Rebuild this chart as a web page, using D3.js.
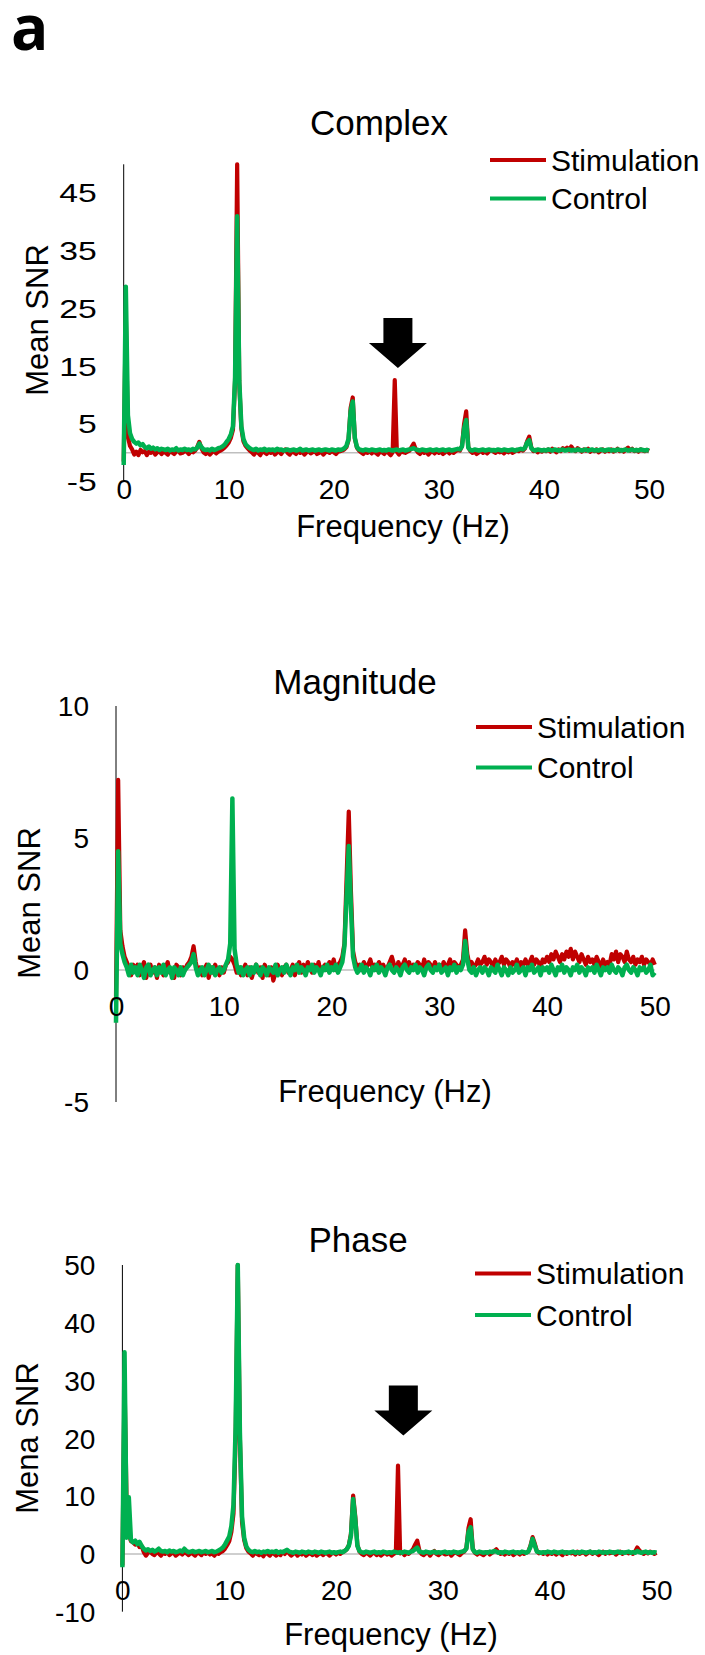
<!DOCTYPE html>
<html>
<head>
<meta charset="utf-8">
<script src="https://cdn.jsdelivr.net/npm/d3@7"></script>
<style>
  body { margin: 0; background: #fff; }
  text { font-family: "Liberation Sans", Arial, sans-serif; fill: #000; }
</style>
</head>
<body>
<script>
// frequency grid, 0.2 Hz bins from 0 to 50 Hz
const freqs = d3.range(251).map(i => +(i * 0.2).toFixed(1))

// Complex
const complexStim = [
  -1.5, 24.0, 2.8, 1.2, 0.6, -0.3, 0.2, -0.4, 0.5, 0.1,
  0.3, -0.4, 0.2, 0.0, 0.4, -0.3, 0.1, 0.3, -0.2, 0.2,
  0.0, -0.3, 0.3, 0.1, -0.2, 0.2, 0.4, -0.1, 0.0, 0.3,
  0.2, -0.2, 0.3, 0.1, 0.4, 1.0, 1.9, 0.8, 0.1, -0.2,
  0.2, -0.3, 0.1, 0.3, -0.1, 0.2, 0.4, 0.6, 0.9, 1.3,
  1.8, 2.6, 4.0, 12.5, 50.0, 12.0, 4.2, 2.0, 1.2, 0.8,
  0.4, 0.1, -0.3, 0.2, 0.0, -0.4, 0.3, 0.1, -0.2, 0.2,
  0.0, 0.3, -0.3, 0.1, 0.2, -0.2, 0.4, 0.6, 0.0, -0.3,
  0.2, 0.1, -0.2, 0.3, 0.0, 0.2, -0.3, 0.1, 0.3, -0.1,
  0.1, 0.3, -0.2, 0.0, 0.2, -0.3, 0.1, 0.2, 0.0, 0.3,
  0.1, -0.2, 0.2, 0.3, 0.4, 0.6, 1.0, 2.2, 7.8, 9.6,
  2.5, 0.9, 0.4, 0.1, -0.2, 0.2, 0.0, 0.3, -0.1, 0.2,
  0.0, -0.3, 0.2, 0.1, -0.2, 0.3, 0.0, -0.4, 0.1, 12.6,
  0.2, -0.3, 0.3, 0.1, 0.0, 0.2, 0.4, 1.0, 1.6, 0.6,
  0.1, -0.2, 0.3, 0.0, 0.2, -0.3, 0.1, 0.2, -0.1, 0.3,
  0.0, 0.2, -0.2, 0.1, 0.3, -0.1, 0.2, 0.0, 0.3, 0.5,
  0.4, 1.2, 5.0, 7.2, 1.0, 0.3, 0.0, 0.2, -0.2, 0.1,
  0.3, 0.0, 0.2, -0.1, 0.3, 0.5, 0.2, 0.0, 0.4, 0.1,
  0.2, -0.1, 0.3, 0.1, 0.4, 0.0, 0.2, 0.5, 0.3, 0.6,
  0.4, 0.8, 2.0, 2.8, 0.9, 0.3, 0.5, 0.1, 0.4, 0.2,
  0.5, 0.3, 0.6, 0.2, 0.7, 0.4, 0.1, 0.6, 0.3, 0.8,
  0.5, 0.9, 0.4, 1.1, 0.6, 0.3, 0.8, 0.5, 0.2, 0.6,
  0.4, 0.7, 0.2, 0.5, 0.3, 0.6, 0.1, 0.4, 0.6, 0.2,
  0.5, 0.3, 0.6, 0.2, 0.4, 0.7, 0.3, 0.5, 0.2, 0.6,
  0.9, 0.4, 0.7, 0.3, 0.5, 0.2, 0.6, 0.4, 0.3, 0.5,
  0.3
]
const complexCtrl = [
  -2.1, 28.8, 6.5, 3.4, 2.4, 1.9, 1.6, 1.8, 1.3, 1.5,
  1.0, 0.8, 1.1, 0.7, 0.9, 0.6, 0.8, 0.5, 0.7, 0.6,
  0.5, 0.7, 0.4, 0.6, 0.5, 0.8, 0.4, 0.6, 0.5, 0.7,
  0.5, 0.6, 0.4, 0.7, 0.6, 0.9, 1.6, 1.0, 0.6, 0.5,
  0.6, 0.4, 0.7, 0.5, 0.6, 0.8, 0.9, 1.1, 1.4, 1.9,
  2.4, 3.2, 4.6, 13.0, 41.0, 12.5, 4.6, 2.4, 1.5, 1.1,
  0.8, 0.6, 0.5, 0.7, 0.4, 0.6, 0.5, 0.7, 0.4, 0.6,
  0.5, 0.6, 0.4, 0.7, 0.5, 0.6, 0.4, 0.5, 0.6, 0.4,
  0.5, 0.6, 0.4, 0.5, 0.7, 0.4, 0.5, 0.6, 0.4, 0.5,
  0.6, 0.4, 0.5, 0.6, 0.4, 0.5, 0.6, 0.5, 0.4, 0.6,
  0.5, 0.4, 0.6, 0.5, 0.6, 0.8, 1.2, 2.4, 7.2, 8.9,
  2.6, 1.0, 0.6, 0.5, 0.4, 0.6, 0.5, 0.4, 0.6, 0.5,
  0.4, 0.5, 0.6, 0.4, 0.5, 0.4, 0.6, 0.5, 0.4, 0.5,
  0.6, 0.4, 0.5, 0.6, 0.4, 0.5, 0.6, 0.7, 0.8, 0.6,
  0.5, 0.4, 0.6, 0.5, 0.4, 0.5, 0.6, 0.4, 0.5, 0.6,
  0.4, 0.5, 0.6, 0.4, 0.5, 0.6, 0.4, 0.5, 0.6, 0.7,
  0.6, 1.1, 4.2, 5.7, 0.9, 0.5, 0.4, 0.6, 0.5, 0.4,
  0.5, 0.6, 0.4, 0.5, 0.6, 0.4, 0.5, 0.4, 0.6, 0.5,
  0.4, 0.6, 0.5, 0.4, 0.5, 0.6, 0.4, 0.5, 0.6, 0.7,
  0.6, 0.9, 1.8, 2.2, 0.8, 0.5, 0.4, 0.6, 0.5, 0.4,
  0.5, 0.4, 0.6, 0.5, 0.4, 0.6, 0.5, 0.4, 0.5, 0.6,
  0.4, 0.5, 0.6, 0.4, 0.5, 0.4, 0.6, 0.5, 0.4, 0.5,
  0.6, 0.4, 0.5, 0.6, 0.4, 0.5, 0.4, 0.6, 0.5, 0.4,
  0.5, 0.6, 0.4, 0.5, 0.4, 0.6, 0.5, 0.4, 0.5, 0.6,
  0.4, 0.5, 0.6, 0.4, 0.5, 0.4, 0.6, 0.5, 0.4, 0.5,
  0.4
]

// Magnitude
const magnitudeStim = [
  -1.0, 7.2, 1.5, 0.9, 0.5, 0.3, 0.1, -0.2, 0.2, 0.0,
  0.2, -0.2, 0.1, 0.3, -0.3, 0.0, 0.2, -0.1, 0.1, -0.3,
  0.2, 0.0, -0.2, 0.1, 0.3, -0.1, 0.0, -0.3, 0.2, 0.1,
  -0.2, 0.1, 0.0, 0.2, 0.3, 0.5, 0.9, 0.3, -0.1, 0.1,
  -0.2, 0.0, 0.2, -0.3, 0.1, -0.1, 0.2, 0.0, -0.2, 0.1,
  -0.1, 0.2, 0.3, 0.5, 0.4, 0.2, -0.1, 0.1, -0.2, 0.0,
  0.2, -0.2, 0.1, -0.3, 0.0, 0.2, -0.1, 0.1, -0.3, 0.2,
  0.0, -0.2, 0.1, -0.4, -0.1, 0.2, 0.0, -0.2, 0.1, 0.2,
  -0.1, 0.0, 0.2, -0.2, 0.1, 0.3, -0.1, 0.2, 0.0, 0.3,
  0.1, -0.1, 0.2, 0.0, 0.3, -0.1, 0.1, 0.2, 0.0, 0.3,
  0.1, 0.4, 0.0, 0.2, 0.3, 0.5, 1.0, 3.5, 6.0, 3.0,
  0.7, 0.3, 0.1, 0.2, 0.0, 0.3, 0.1, 0.2, 0.4, 0.1,
  0.2, 0.0, 0.3, 0.1, 0.2, 0.0, 0.1, 0.3, 0.5, 0.2,
  0.0, 0.3, 0.1, 0.2, 0.4, 0.1, 0.3, 0.0, 0.2, 0.1,
  0.3, 0.2, 0.0, 0.4, 0.1, 0.3, 0.2, 0.0, 0.3, 0.1,
  0.2, 0.0, 0.3, 0.1, 0.2, 0.4, 0.1, 0.3, 0.2, 0.1,
  0.2, 0.4, 1.5, 0.6, 0.2, 0.3, 0.1, 0.2, 0.4, 0.2,
  0.3, 0.5, 0.2, 0.4, 0.3, 0.1, 0.4, 0.2, 0.3, 0.5,
  0.2, 0.4, 0.3, 0.1, 0.3, 0.2, 0.4, 0.1, 0.3, 0.2,
  0.4, 0.2, 0.3, 0.5, 0.2, 0.4, 0.3, 0.1, 0.4, 0.3,
  0.5, 0.3, 0.6, 0.4, 0.7, 0.5, 0.3, 0.6, 0.4, 0.7,
  0.5, 0.8, 0.4, 0.7, 0.5, 0.3, 0.6, 0.4, 0.2, 0.5,
  0.3, 0.4, 0.2, 0.5, 0.3, 0.1, 0.4, 0.2, 0.3, 0.2,
  0.6, 0.4, 0.7, 0.3, 0.6, 0.5, 0.3, 0.7, 0.4, 0.3,
  0.5, 0.2, 0.4, 0.3, 0.5, 0.2, 0.4, 0.3, 0.2, 0.4,
  0.2
]
const magnitudeCtrl = [
  -2.0, 4.5, 1.0, 0.6, 0.3, 0.1, -0.2, 0.2, -0.1, 0.1,
  -0.2, 0.2, 0.0, -0.3, 0.1, 0.2, -0.2, 0.0, 0.1, -0.2,
  0.1, -0.1, 0.2, -0.2, 0.0, 0.1, -0.3, 0.1, 0.0, -0.2,
  0.1, -0.2, 0.0, 0.1, 0.2, 0.3, 0.6, 0.1, -0.2, 0.0,
  0.1, -0.2, 0.0, 0.2, -0.1, 0.1, -0.2, 0.0, 0.1, -0.1,
  0.0, 0.2, 0.4, 1.0, 6.5, 0.8, 0.2, -0.1, 0.1, -0.2,
  0.0, 0.1, -0.2, 0.1, -0.1, 0.2, 0.0, -0.2, 0.1, 0.0,
  -0.2, 0.1, 0.0, -0.1, 0.2, -0.2, 0.0, 0.1, -0.1, 0.2,
  0.0, -0.2, 0.1, 0.0, 0.2, -0.1, 0.1, 0.0, -0.2, 0.1,
  0.0, 0.2, -0.1, 0.1, 0.0, -0.2, 0.1, 0.0, 0.2, -0.1,
  0.1, 0.0, 0.2, -0.1, 0.1, 0.3, 0.9, 2.8, 4.7, 2.4,
  0.5, 0.1, -0.1, 0.0, 0.2, -0.1, 0.1, 0.0, -0.2, 0.1,
  0.0, 0.2, -0.1, 0.1, 0.0, -0.2, 0.1, 0.2, 0.0, -0.1,
  0.1, 0.0, -0.2, 0.1, 0.2, 0.0, -0.1, 0.1, 0.0, 0.2,
  -0.1, 0.1, 0.0, -0.2, 0.1, 0.2, 0.0, -0.1, 0.1, 0.0,
  0.2, -0.1, 0.0, 0.1, -0.2, 0.1, 0.0, 0.2, -0.1, 0.1,
  0.0, 0.2, 1.1, 0.4, 0.0, -0.1, 0.1, -0.2, 0.0, 0.1,
  -0.1, 0.1, 0.0, -0.2, 0.1, 0.0, -0.1, 0.2, 0.0, -0.2,
  0.1, 0.0, -0.2, 0.1, -0.1, 0.0, 0.2, -0.1, 0.0, 0.1,
  -0.2, 0.1, 0.0, 0.2, -0.1, 0.0, 0.1, -0.2, 0.1, 0.0,
  0.1, -0.1, 0.2, 0.0, -0.2, 0.1, 0.0, 0.2, -0.1, 0.1,
  0.0, -0.2, 0.1, 0.0, 0.2, -0.1, 0.1, 0.0, -0.2, 0.1,
  0.0, 0.1, -0.1, 0.2, 0.0, -0.2, 0.1, 0.0, 0.1, -0.1,
  0.2, 0.0, -0.1, 0.1, 0.0, -0.2, 0.1, 0.2, 0.0, -0.1,
  0.1, 0.0, -0.2, 0.1, 0.0, 0.1, -0.1, 0.0, 0.2, -0.2,
  -0.1
]

// Phase
const phaseStim = [
  -2.0, 30.0, 8.0, 3.5, 2.2, 2.0, 1.6, 1.9, 1.2, 1.4,
  0.3, -0.3, 0.2, 0.4, 0.0, -0.2, 0.3, 0.1, -0.3, 0.2,
  0.0, 0.3, -0.2, 0.1, 0.2, -0.3, 0.0, 0.2, -0.1, 0.3,
  0.1, -0.2, 0.2, 0.0, -0.3, 0.2, 0.1, -0.2, 0.3, 0.0,
  0.2, -0.1, 0.1, -0.3, 0.2, 0.0, 0.3, 0.5, 0.9, 1.5,
  2.2, 3.8, 7.0, 20.0, 50.0, 20.0, 5.5, 2.4, 1.0, 0.4,
  0.1, -0.3, 0.2, 0.0, -0.2, 0.1, -0.4, 0.2, 0.0, -0.3,
  0.2, 0.0, -0.3, 0.1, -0.2, 0.3, 0.0, 0.6, 0.1, -0.3,
  0.0, 0.2, -0.3, 0.1, -0.1, 0.2, -0.3, 0.0, 0.1, -0.2,
  0.2, -0.3, 0.0, 0.1, -0.2, 0.2, 0.0, -0.3, 0.1, 0.2,
  -0.1, 0.2, 0.0, 0.3, 0.5, 0.8, 1.5, 3.5, 10.1, 6.5,
  1.5, 0.4, 0.0, -0.2, 0.2, 0.0, -0.3, 0.1, 0.2, -0.2,
  0.1, -0.3, 0.0, 0.2, -0.1, 0.1, -0.3, 0.0, 0.2, 15.3,
  0.1, 0.3, -0.2, 0.2, 0.0, 0.4, 0.8, 1.6, 2.3, 0.6,
  0.0, -0.2, 0.1, 0.3, -0.3, 0.2, 0.5, 0.0, -0.2, 0.1,
  0.2, -0.1, 0.0, 0.2, -0.3, 0.1, 0.3, 0.0, -0.2, 0.2,
  0.4, 1.0, 4.5, 6.0, 0.9, 0.2, -0.1, 0.2, 0.0, -0.2,
  0.1, 0.3, -0.1, 0.2, 0.5, 0.8, 0.3, 0.0, 0.2, -0.1,
  0.2, 0.0, 0.3, -0.2, 0.1, 0.2, -0.1, 0.3, 0.0, 0.2,
  0.4, 1.4, 2.9, 1.8, 0.5, 0.1, 0.2, 0.0, 0.3, -0.1,
  0.2, 0.0, 0.3, -0.1, 0.2, 0.1, -0.2, 0.3, 0.0, 0.2,
  0.1, 0.3, -0.1, 0.4, 0.0, 0.2, 0.3, -0.1, 0.2, 0.4,
  0.0, 0.3, 0.1, -0.2, 0.2, 0.4, 0.0, 0.3, 0.1, 0.2,
  0.3, -0.1, 0.2, 0.4, 0.0, 0.2, 0.3, 0.1, 0.2, 0.0,
  0.4, 1.1, 0.6, 0.2, 0.0, 0.3, 0.1, 0.4, 0.2, 0.0,
  0.2
]
const phaseCtrl = [
  -2.3, 34.9, 2.8, 9.8, 2.4, 2.0, 2.3, 1.7, 2.1, 1.4,
  0.9, 0.6, 0.8, 0.5, 0.7, 0.4, 0.6, 0.9, 0.5, 0.4,
  0.5, 0.3, 0.6, 0.4, 0.5, 0.3, 0.4, 0.6, 0.4, 0.9,
  0.5, 0.3, 0.4, 0.5, 0.3, 0.4, 0.5, 0.3, 0.4, 0.5,
  0.3, 0.4, 0.5, 0.3, 0.4, 0.6, 0.8, 1.1, 1.6, 2.3,
  3.0, 4.8, 8.5, 22.0, 50.0, 21.0, 6.5, 2.8, 1.3, 0.7,
  0.4, 0.3, 0.5, 0.3, 0.4, 0.2, 0.4, 0.3, 0.5, 0.3,
  0.4, 0.3, 0.5, 0.2, 0.4, 0.3, 0.5, 0.7, 0.4, 0.3,
  0.2, 0.4, 0.3, 0.2, 0.4, 0.3, 0.2, 0.4, 0.3, 0.2,
  0.4, 0.3, 0.2, 0.4, 0.3, 0.2, 0.3, 0.4, 0.2, 0.3,
  0.2, 0.3, 0.4, 0.3, 0.5, 0.8, 1.4, 3.2, 9.5, 6.0,
  1.4, 0.5, 0.3, 0.2, 0.4, 0.3, 0.2, 0.3, 0.4, 0.2,
  0.3, 0.2, 0.4, 0.3, 0.2, 0.3, 0.2, 0.4, 0.3, 0.2,
  0.3, 0.2, 0.4, 0.3, 0.2, 0.4, 0.5, 0.8, 1.1, 0.4,
  0.3, 0.2, 0.4, 0.3, 0.2, 0.3, 0.4, 0.2, 0.3, 0.2,
  0.3, 0.4, 0.2, 0.3, 0.2, 0.4, 0.3, 0.2, 0.3, 0.4,
  0.5, 0.9, 3.8, 4.6, 0.8, 0.3, 0.2, 0.4, 0.3, 0.2,
  0.3, 0.2, 0.4, 0.3, 0.5, 0.4, 0.2, 0.3, 0.2, 0.4,
  0.3, 0.2, 0.3, 0.4, 0.2, 0.3, 0.2, 0.4, 0.3, 0.2,
  0.4, 1.2, 2.6, 1.5, 0.4, 0.3, 0.2, 0.3, 0.2, 0.4,
  0.3, 0.2, 0.4, 0.3, 0.2, 0.3, 0.4, 0.2, 0.3, 0.2,
  0.3, 0.4, 0.2, 0.3, 0.2, 0.4, 0.3, 0.2, 0.3, 0.4,
  0.2, 0.3, 0.2, 0.4, 0.3, 0.2, 0.3, 0.2, 0.4, 0.3,
  0.2, 0.3, 0.4, 0.2, 0.3, 0.2, 0.3, 0.4, 0.2, 0.3,
  0.2, 0.5, 0.3, 0.2, 0.3, 0.4, 0.2, 0.3, 0.2, 0.3,
  0.2
]

const xTicks = [0, 10, 20, 30, 40, 50]
const complexYTicks = [-5, 5, 15, 25, 35, 45]
const magnitudeYTicks = [-5, 0, 5, 10]
const phaseYTicks = [-10, 0, 10, 20, 30, 40, 50]
const seriesNames = ['Stimulation', 'Control']

// arrows marking the stimulation frequency: centre frequency and value at the tip
const complexArrow = { freq: 26.1, tip: 14.7 }
const phaseArrow = { freq: 26.3, tip: 20.5 }

const RED = '#c00000'
const GREEN = '#00b050'

const panels = [
  { title: 'Complex', ylabel: 'Mean SNR', stim: complexStim, ctrl: complexCtrl,
    yDomain: [-5, 50], yTicks: complexYTicks, xRange: [123.7, 649], yRange: [481.7, 164.3],
    titleX: 379, titleY: 135, legX: 490, legY: 160, legGap: 38.5,
    ylabX: 37, ylabY: 320, xlabX: 403, xlabY: 537, tickFont: 25, tickStretch: 1.35,
    arrow: complexArrow },
  { title: 'Magnitude', ylabel: 'Mean SNR', stim: magnitudeStim, ctrl: magnitudeCtrl,
    yDomain: [-5, 10], yTicks: magnitudeYTicks, xRange: [116, 654.8], yRange: [1102, 706],
    titleX: 355, titleY: 694, legX: 476, legY: 727, legGap: 40.5,
    ylabX: 29, ylabY: 903, xlabX: 385, xlabY: 1102, tickFont: 28, tickStretch: 1,
    arrow: null },
  { title: 'Phase', ylabel: 'Mena SNR', stim: phaseStim, ctrl: phaseCtrl,
    yDomain: [-10, 50], yTicks: phaseYTicks, xRange: [122.4, 656.5], yRange: [1611.7, 1265],
    titleX: 358, titleY: 1252, legX: 475, legY: 1273.5, legGap: 41.5,
    ylabX: 27, ylabY: 1438, xlabX: 391, xlabY: 1645, tickFont: 28, tickStretch: 1,
    arrow: phaseArrow }
]

const svg = d3.select('body').append('svg')
  .attr('width', 705)
  .attr('height', 1655)
  .attr('viewBox', '0 0 705 1655')

svg.append('text')
  .attr('x', 11)
  .attr('y', 50)
  .style('font-family', '"Open Sans", "Liberation Sans", sans-serif')
  .style('font-weight', 700)
  .style('font-size', '62px')
  .text('a')

panels.forEach(p => {
  const x = d3.scaleLinear().domain([0, 50]).range(p.xRange)
  const y = d3.scaleLinear().domain(p.yDomain).range(p.yRange)
  const g = svg.append('g')

  // zero line (horizontal axis)
  g.append('line')
    .attr('x1', x(0)).attr('x2', x(50))
    .attr('y1', y(0)).attr('y2', y(0))
    .attr('stroke', '#bfbfbf')
    .attr('stroke-width', 1.5)

  // vertical axis line
  g.append('line')
    .attr('x1', x(0)).attr('x2', x(0))
    .attr('y1', y(p.yDomain[1])).attr('y2', y(p.yDomain[0]))
    .attr('stroke', '#000')
    .attr('stroke-width', 1)

  const line = d3.line()
    .x((d, i) => x(freqs[i]))
    .y(d => y(d))

  g.append('path')
    .datum(p.stim)
    .attr('d', line)
    .attr('fill', 'none')
    .attr('stroke', RED)
    .attr('stroke-width', 4.2)
    .attr('stroke-linejoin', 'round')

  g.append('path')
    .datum(p.ctrl)
    .attr('d', line)
    .attr('fill', 'none')
    .attr('stroke', GREEN)
    .attr('stroke-width', 4.5)
    .attr('stroke-linejoin', 'round')

  // axes (plain hyphen for negatives, as in the source)
  const xAxis = g.append('g')
    .attr('transform', `translate(0, ${y(0)})`)
    .call(d3.axisBottom(x).tickValues(xTicks).tickSize(0).tickFormat(d => String(d)))
  xAxis.select('.domain').remove()
  xAxis.selectAll('text')
    .attr('y', 36)
    .attr('dy', '0.35em')
    .style('font-size', '28px')
    .style('font-family', '"Liberation Sans", Arial, sans-serif')
    .attr('fill', '#000')

  const yAxis = g.append('g')
    .attr('transform', `translate(${x(0)}, 0)`)
    .call(d3.axisLeft(y).tickValues(p.yTicks).tickSize(0).tickFormat(d => String(d)))
  yAxis.select('.domain').remove()
  yAxis.selectAll('text')
    .attr('x', -27 / p.tickStretch)
    .attr('dy', '0.35em')
    .attr('transform', `scale(${p.tickStretch},1)`)
    .style('font-size', p.tickFont + 'px')
    .style('font-family', '"Liberation Sans", Arial, sans-serif')
    .attr('fill', '#000')

  // title and axis labels
  g.append('text')
    .attr('x', p.titleX).attr('y', p.titleY)
    .attr('text-anchor', 'middle')
    .style('font-size', '35px')
    .text(p.title)

  g.append('text')
    .attr('x', p.xlabX).attr('y', p.xlabY)
    .attr('text-anchor', 'middle')
    .style('font-size', '31px')
    .text('Frequency (Hz)')

  g.append('text')
    .attr('transform', `translate(${p.ylabX}, ${p.ylabY}) rotate(-90)`)
    .attr('text-anchor', 'middle')
    .attr('dy', '0.35em')
    .style('font-size', '31px')
    .text(p.ylabel)

  // legend
  const leg = g.selectAll('.leg')
    .data(seriesNames)
    .enter()
    .append('g')
    .attr('transform', (d, i) => `translate(${p.legX}, ${p.legY + i * p.legGap})`)
  leg.append('line')
    .attr('x1', 0).attr('x2', 56)
    .attr('stroke', (d, i) => i === 0 ? RED : GREEN)
    .attr('stroke-width', 4)
  leg.append('text')
    .attr('x', 61)
    .attr('y', 10.5)
    .style('font-size', '30px')
    .text(d => d)

  // arrow
  if (p.arrow) {
    const tx = x(p.arrow.freq)
    const ty = y(p.arrow.tip)
    const pts = [
      [tx, ty], [tx - 29, ty - 25], [tx - 14.5, ty - 25], [tx - 14.5, ty - 50],
      [tx + 14.5, ty - 50], [tx + 14.5, ty - 25], [tx + 29, ty - 25]
    ]
    g.append('path')
      .attr('d', d3.line()(pts) + 'Z')
      .attr('fill', '#000')
  }
})
</script>
</body>
</html>
